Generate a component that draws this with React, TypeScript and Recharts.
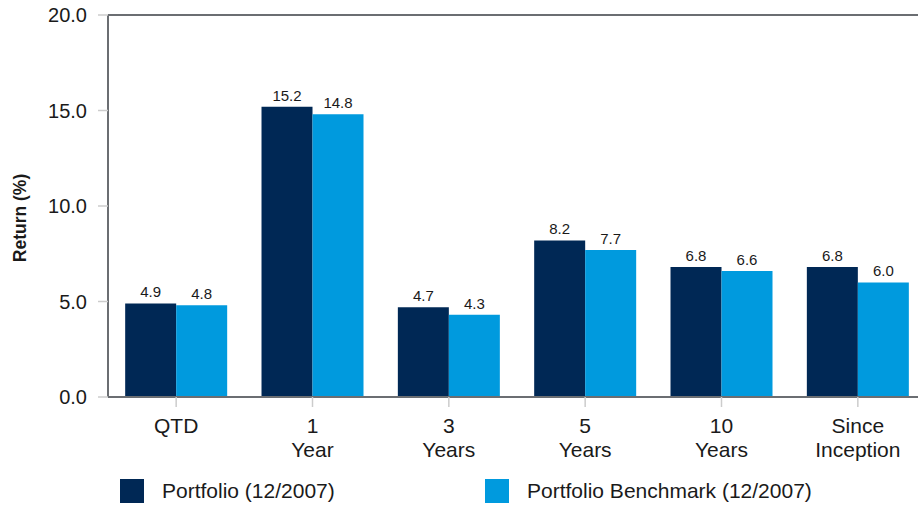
import React from 'react';
import { BarChart, Bar, XAxis, YAxis, LabelList, ReferenceLine, Legend } from 'recharts';

const categories = ['QTD', '1\nYear', '3\nYears', '5\nYears', '10\nYears', 'Since\nInception'];
const portfolio = [4.9, 15.2, 4.7, 8.2, 6.8, 6.8];
const benchmark = [4.8, 14.8, 4.3, 7.7, 6.6, 6.0];
const yTicks = [0, 5, 10, 15, 20];
const seriesNames = ['Portfolio (12/2007)', 'Portfolio Benchmark (12/2007)'];
const colors = ['#002855', '#009ADE'];

const data = categories.map((c, i) => ({ name: c, portfolio: portfolio[i], benchmark: benchmark[i] }));

const FONT = '"Liberation Sans", Arial, sans-serif';

const XTick = (props: any) => {
  const { x, y, payload } = props;
  const lines = String(payload.value).split('\n');
  return (
    <text x={x} y={y} textAnchor="middle" fontFamily={FONT} fontSize={21} fill="#1a1a1a">
      {lines.map((l, i) => (
        <tspan key={i} x={x} dy={24}>{l}</tspan>
      ))}
    </text>
  );
};

const LegendContent = () => (
  <div style={{ position: 'relative', height: 34, fontFamily: FONT, fontSize: 21, color: '#1a1a1a' }}>
    {seriesNames.map((n, i) => (
      <div key={n} style={{ position: 'absolute', left: i === 0 ? 120 : 485, top: 12, display: 'flex', alignItems: 'center', whiteSpace: 'nowrap' }}>
        <span style={{ display: 'inline-block', width: 24, height: 24, background: colors[i], marginRight: 18 }} />
        <span>{n}</span>
      </div>
    ))}
  </div>
);

export default function App() {
  return (
    <div style={{ position: 'absolute', left: 0, top: 0, width: 918, height: 506, background: '#fff', overflow: 'hidden' }}>
      <BarChart
        width={926}
        height={506}
        data={data}
        margin={{ top: 15, right: 0, left: 0, bottom: 5 }}
        barCategoryGap="12.6%"
        barGap={0}
      >
        <XAxis
          dataKey="name"
          height={70}
          interval={0}
          tick={<XTick />}
          tickSize={10}
          tickLine={{ stroke: '#cccccc', strokeWidth: 1.5 }}
          axisLine={{ stroke: '#6b6e72', strokeWidth: 2 }}
        />
        <YAxis
          width={108}
          domain={[0, 20]}
          ticks={yTicks}
          tickFormatter={(v: number) => v.toFixed(1)}
          tick={{ fontFamily: FONT, fontSize: 20, fill: '#1a1a1a' }}
          tickSize={10}
          tickMargin={11}
          tickLine={{ stroke: '#cccccc', strokeWidth: 1.5 }}
          axisLine={{ stroke: '#6b6e72', strokeWidth: 2 }}
          label={{
            content: (p: any) => {
              const vb = p.viewBox;
              const cx = 20;
              const cy = vb.y + vb.height / 2 + 12;
              return (
                <text x={cx} y={cy} transform={`rotate(-90 ${cx} ${cy})`} textAnchor="middle" dominantBaseline="central"
                  fontFamily={FONT} fontSize={17.5} fontWeight="bold" fill="#1a1a1a">Return (%)</text>
              );
            },
          }}
        />
        <ReferenceLine y={20} stroke="#6b6e72" strokeWidth={2} />
        <Legend verticalAlign="bottom" height={34} content={<LegendContent />} />
        <Bar dataKey="portfolio" name={seriesNames[0]} fill={colors[0]} isAnimationActive={false}>
          <LabelList dataKey="portfolio" position="top" offset={6} formatter={(v: number) => v.toFixed(1)}
            style={{ fontFamily: FONT, fontSize: 15, fill: '#1a1a1a' }} />
        </Bar>
        <Bar dataKey="benchmark" name={seriesNames[1]} fill={colors[1]} isAnimationActive={false}>
          <LabelList dataKey="benchmark" position="top" offset={6} formatter={(v: number) => v.toFixed(1)}
            style={{ fontFamily: FONT, fontSize: 15, fill: '#1a1a1a' }} />
        </Bar>
      </BarChart>
    </div>
  );
}
